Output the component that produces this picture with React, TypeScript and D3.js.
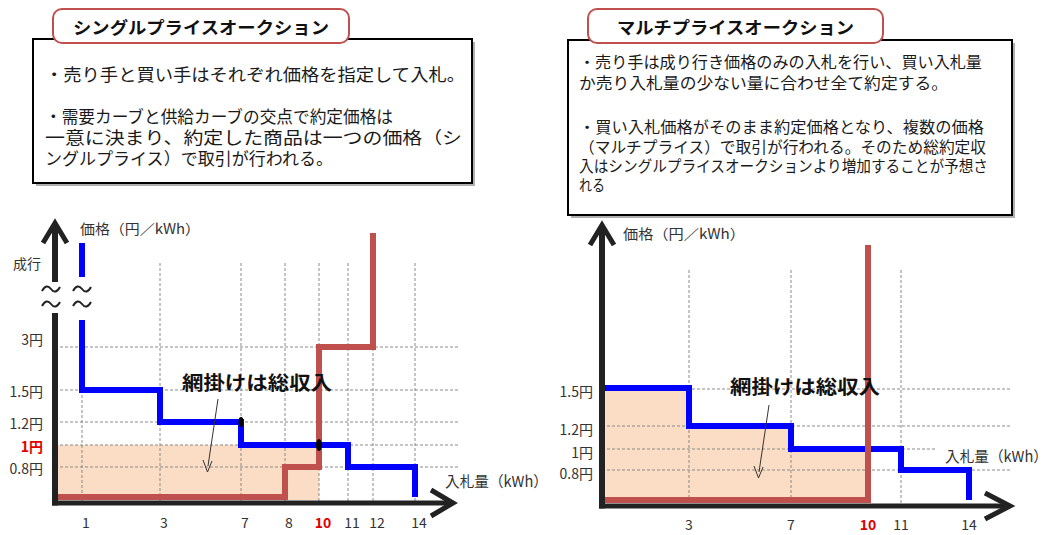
import React from "react";
import * as d3 from "d3";

const FONT = "'Noto Sans CJK JP', 'Noto Sans', sans-serif";
const BLUE = "#0000ff";
const RED = "#c0504d";
const SHADE = "#fbdcc4";
const GRID = "#8a8a8a";
const MARKET = 99; // 成行 (market order) symbolic price level

// ---------- Single price auction ----------
const singleTitle = "シングルプライスオークション";
const singleLines = [
  "・売り手と買い手はそれぞれ価格を指定して入札。",
  "・需要カーブと供給カーブの交点で約定価格は",
  "一意に決まり、約定した商品は一つの価格（シ",
  "ングルプライス）で取引が行われる。",
];
const singleTicks = [1, 3, 7, 8, 10, 11, 12, 14];
const singlePriceLevels = [3, 1.5, 1.2, 1, 0.8];
const singlePriceLabels = ["3円", "1.5円", "1.2円", "1円", "0.8円"];
const singleDemand = [
  { q: 1, p: 1.5 },
  { q: 3, p: 1.2 },
  { q: 7, p: 1.0 },
  { q: 11, p: 0.8 },
  { q: 14, p: 0 },
];
const singleSupply = [
  { q: 0, p: 0 },
  { q: 8, p: 0.8 },
  { q: 10, p: 3 },
  { q: 12, p: MARKET },
];
const singleClearing = { q: 10, p: 1 };
const singleDots = [
  { q: 7, p: 1.2 },
  { q: 10, p: 1 },
];

// ---------- Multi price auction ----------
const multiTitle = "マルチプライスオークション";
const multiLines = [
  "・売り手は成り行き価格のみの入札を行い、買い入札量",
  "か売り入札量の少ない量に合わせ全て約定する。",
  "・買い入札価格がそのまま約定価格となり、複数の価格",
  "（マルチプライス）で取引が行われる。そのため総約定収",
  "入はシングルプライスオークションより増加することが予想さ",
  "れる",
];
const multiTicks = [3, 7, 10, 11, 14];
const multiPriceLevels = [1.5, 1.2, 1, 0.8];
const multiPriceLabels = ["1.5円", "1.2円", "1円", "0.8円"];
const multiDemand = [
  { q: 0, p: 1.5 },
  { q: 3, p: 1.2 },
  { q: 7, p: 1.0 },
  { q: 11, p: 0.8 },
  { q: 14, p: 0 },
];
const multiSupply = [
  { q: 0, p: 0 },
  { q: 10, p: MARKET },
];
const multiClearQ = 10;

const highlightTick = 10;
const highlightPrice = 1;

type Pt = { q: number; p: number };

// schematic (piecewise) scales, as in the original slide
const xS = d3.scaleLinear().domain([0, 1, 3, 7, 8, 10, 11, 12, 14]).range([55, 82, 160, 241, 285, 319, 348, 373, 415]);
const yS = d3.scaleLinear().domain([0, 0.8, 1, 1.2, 1.5, 3, MARKET]).range([497, 467, 445, 422, 390, 347, 233]);
const xM = d3.scaleLinear().domain([0, 3, 7, 10, 11, 14]).range([602, 689, 791, 868, 901, 969]);
const yM = d3.scaleLinear().domain([0, 0.8, 1, 1.2, 1.5, MARKET]).range([500, 470, 449, 426, 388, 245]);

function stepLine(x: d3.ScaleLinear<number, number>, y: d3.ScaleLinear<number, number>) {
  return d3
    .line<Pt>()
    .x((d) => x(d.q))
    .y((d) => y(d.p))
    .curve(d3.curveStepAfter);
}

function Tilde({ cx, cy }: { cx: number; cy: number }) {
  const d = `M${cx - 9},${cy + 2} Q${cx - 4.5},${cy - 6} ${cx},${cy} Q${cx + 4.5},${cy + 6} ${cx + 9},${cy - 2}`;
  return <path d={d} fill="none" stroke="#222" strokeWidth={2} />;
}

function TextBox({
  x, y, w, h, tx, tw, title, titleW, lines, lineY, lineW, lineX, fs,
}: {
  x: number; y: number; w: number; h: number; tx: number; tw: number; title: string; titleW: number;
  lines: string[]; lineY: number[]; lineW: (number | null)[]; lineX: number; fs: number;
}) {
  return (
    <g>
      <rect x={x + 3} y={y + 3} width={w} height={h} fill="#b0b0b0" />
      <rect x={x} y={y} width={w} height={h} fill="#fff" stroke="#000" strokeWidth={2} />
      <rect x={tx} y={9} width={tw} height={34} rx={9} fill="#fff" stroke={RED} strokeWidth={2} />
      <text
        x={tx + tw / 2}
        y={26}
        textAnchor="middle"
        dominantBaseline="central"
        fontSize={17}
        fontWeight="bold"
        fill="#111"
        textLength={titleW}
        lengthAdjust="spacingAndGlyphs"
      >
        {title}
      </text>
      {lines.map((l, i) => (
        <text
          key={i}
          x={lineX}
          y={lineY[i]}
          dominantBaseline="central"
          fontSize={fs}
          fill="#1a1a1a"
          {...(lineW[i] ? { textLength: lineW[i] as number, lengthAdjust: "spacingAndGlyphs" } : {})}
        >
          {l}
        </text>
      ))}
    </g>
  );
}

export default function App() {
  const sLine = stepLine(xS, yS);
  const mLine = stepLine(xM, yM);

  // left chart geometry
  const sAxisX = xS(0);
  const sAxisY = 503;
  const sTop = 223;
  const breakTop = 280;
  const breakBot = 316;
  const sXTip = 453;
  const sGridTop = 263;
  const sGridRight = 460;

  // right chart geometry
  const mAxisX = xM(0);
  const mAxisY = 506;
  const mTop = 225;
  const mXTip = 1010;
  const mGridTop = 270;
  const mGridRight = 1012;

  const multiShadeData: Pt[] = [
    ...multiDemand.filter((d) => d.q < multiClearQ),
    { q: multiClearQ, p: multiDemand.filter((d) => d.q <= multiClearQ).slice(-1)[0].p },
  ];
  const mArea = d3
    .area<Pt>()
    .x((d) => xM(d.q))
    .y0(yM(0) + 3)
    .y1((d) => yM(d.p))
    .curve(d3.curveStepAfter);

  const firstDemand = singleDemand[0];

  return (
    <svg width={1051} height={535} style={{ display: "block", position: "absolute", left: 0, top: 0 }} fontFamily={FONT}>
      <rect width={1051} height={535} fill="#fff" />

      {/* ---------- text boxes ---------- */}
      <TextBox
        x={33} y={39} w={439} h={144} tx={53} tw={296} title={singleTitle} titleW={256}
        lines={singleLines} lineY={[73, 115, 136, 157]} lineW={[420, 348, 417, 288]} lineX={45} fs={17}
      />
      <TextBox
        x={568} y={40} w={444} h={175} tx={588} tw={295} title={multiTitle} titleW={237}
        lines={multiLines} lineY={[61, 82, 126, 146, 165, 184]} lineW={[403, 369, 405, 407, 409, 26]} lineX={579} fs={15.5}
      />

      {/* ================= LEFT: single price ================= */}
      <rect
        x={xS(0)}
        y={yS(singleClearing.p)}
        width={xS(singleClearing.q) - xS(0)}
        height={yS(0) + 3 - yS(singleClearing.p)}
        fill={SHADE}
      />
      {/* grid */}
      {singlePriceLevels.map((p) => (
        <line key={p} x1={sAxisX} x2={sGridRight} y1={yS(p)} y2={yS(p)} stroke={GRID} strokeWidth={1} strokeDasharray="3,2" />
      ))}
      {singleTicks.map((q) => (
        <line
          key={q}
          x1={xS(q)}
          x2={xS(q)}
          y1={q === firstDemand.q ? yS(firstDemand.p) : sGridTop}
          y2={sAxisY}
          stroke={GRID}
          strokeWidth={1}
          strokeDasharray="3,2"
        />
      ))}
      {/* supply */}
      <path d={sLine(singleSupply) || ""} fill="none" stroke={RED} strokeWidth={6} />
      {/* demand */}
      <path d={sLine(singleDemand) || ""} fill="none" stroke={BLUE} strokeWidth={6} />
      <line x1={xS(firstDemand.q)} x2={xS(firstDemand.q)} y1={yS(firstDemand.p) + 3} y2={breakBot + 4} stroke={BLUE} strokeWidth={6} />
      <line x1={xS(firstDemand.q)} x2={xS(firstDemand.q)} y1={breakTop - 3} y2={yS(MARKET) + 10} stroke={BLUE} strokeWidth={6} />
      {singleDots.map((d, i) => (
        <ellipse key={i} cx={xS(d.q)} cy={yS(d.p)} rx={i === 0 ? 2.5 : 3} ry={i === 0 ? 5 : 6} fill="#000" />
      ))}
      {/* axes */}
      <line x1={sAxisX} x2={sAxisX} y1={sAxisY + 2.5} y2={breakBot - 3} stroke="#222" strokeWidth={6} />
      <line x1={sAxisX} x2={sAxisX} y1={breakTop + 2} y2={sTop + 2} stroke="#222" strokeWidth={6} />
      <polyline points={`${sAxisX - 12},${sTop + 20} ${sAxisX},${sTop} ${sAxisX + 12},${sTop + 20}`} fill="none" stroke="#222" strokeWidth={5} />
      <line x1={sAxisX - 3} x2={sXTip - 3} y1={sAxisY} y2={sAxisY} stroke="#222" strokeWidth={5} />
      <polyline points={`${sXTip - 22},${sAxisY - 13} ${sXTip},${sAxisY} ${sXTip - 22},${sAxisY + 13}`} fill="none" stroke="#222" strokeWidth={5} />
      <Tilde cx={sAxisX - 4} cy={289} />
      <Tilde cx={sAxisX - 4} cy={304} />
      <Tilde cx={xS(firstDemand.q)} cy={289} />
      <Tilde cx={xS(firstDemand.q)} cy={304} />
      {/* labels */}
      <text x={80} y={228} dominantBaseline="central" fontSize={14} fill="#333" textLength={120} lengthAdjust="spacingAndGlyphs">
        価格（円／kWh）
      </text>
      <text x={13} y={263} dominantBaseline="central" fontSize={14} fill="#333">
        成行
      </text>
      {singlePriceLevels.map((p, i) => (
        <text
          key={p}
          x={43}
          y={yS(p) + (p === 3 ? -8 : 1)}
          textAnchor="end"
          dominantBaseline="central"
          fontSize={14}
          fontWeight={p === highlightPrice ? "bold" : "normal"}
          fill={p === highlightPrice ? "#e00000" : "#333"}
        >
          {singlePriceLabels[i]}
        </text>
      ))}
      {singleTicks.map((q) => (
        <text
          key={q}
          x={xS(q) + 4}
          y={522}
          textAnchor="middle"
          dominantBaseline="central"
          fontSize={14}
          fontWeight={q === highlightTick ? "bold" : "normal"}
          fill={q === highlightTick ? "#e00000" : "#333"}
        >
          {q}
        </text>
      ))}
      <text x={445} y={480} dominantBaseline="central" fontSize={15} fill="#333" textLength={103} lengthAdjust="spacingAndGlyphs">
        入札量（kWh）
      </text>
      <text x={182} y={381} dominantBaseline="central" fontSize={19} fontWeight="bold" fill="#111" textLength={150} lengthAdjust="spacingAndGlyphs">
        網掛けは総収入
      </text>
      <line x1={218} y1={399} x2={208} y2={466} stroke="#333" strokeWidth={1} />
      <polyline points="203,460 207.5,472 212,461" fill="none" stroke="#333" strokeWidth={1} />

      {/* ================= RIGHT: multi price ================= */}
      <path d={mArea(multiShadeData) || ""} fill={SHADE} />
      {multiPriceLevels.map((p) => (
        <line
          key={p}
          x1={mAxisX}
          x2={p === highlightPrice ? 937 : mGridRight}
          y1={yM(p) + (p === 1.5 ? 1 : 0)}
          y2={yM(p) + (p === 1.5 ? 1 : 0)}
          stroke={GRID}
          strokeWidth={1}
          strokeDasharray="3,2"
        />
      ))}
      {multiTicks
        .filter((q) => q !== multiClearQ && q !== 14)
        .map((q) => (
          <line key={q} x1={xM(q)} x2={xM(q)} y1={mGridTop} y2={mAxisY} stroke={GRID} strokeWidth={1} strokeDasharray="3,2" />
        ))}
      <path d={mLine(multiDemand) || ""} fill="none" stroke={BLUE} strokeWidth={6} />
      <path d={mLine(multiSupply) || ""} fill="none" stroke={RED} strokeWidth={6} />
      <line x1={mAxisX} x2={mAxisX} y1={mAxisY + 2.5} y2={mTop + 2} stroke="#222" strokeWidth={6} />
      <polyline points={`${mAxisX - 12},${mTop + 20} ${mAxisX},${mTop} ${mAxisX + 12},${mTop + 20}`} fill="none" stroke="#222" strokeWidth={5} />
      <line x1={mAxisX - 3} x2={mXTip - 3} y1={mAxisY} y2={mAxisY} stroke="#222" strokeWidth={5} />
      <polyline points={`${mXTip - 25},${mAxisY - 13} ${mXTip},${mAxisY} ${mXTip - 25},${mAxisY + 13}`} fill="none" stroke="#222" strokeWidth={5} />
      <text x={623} y={233} dominantBaseline="central" fontSize={14} fill="#333" textLength={122} lengthAdjust="spacingAndGlyphs">
        価格（円／kWh）
      </text>
      {multiPriceLevels.map((p, i) => (
        <text key={p} x={593} y={yM(p) + 3} textAnchor="end" dominantBaseline="central" fontSize={14} fill="#333">
          {multiPriceLabels[i]}
        </text>
      ))}
      {multiTicks.map((q) => (
        <text
          key={q}
          x={xM(q)}
          y={524}
          textAnchor="middle"
          dominantBaseline="central"
          fontSize={14}
          fontWeight={q === highlightTick ? "bold" : "normal"}
          fill={q === highlightTick ? "#e00000" : "#333"}
        >
          {q}
        </text>
      ))}
      <text x={945} y={455} dominantBaseline="central" fontSize={15} fill="#333" textLength={103} lengthAdjust="spacingAndGlyphs">
        入札量（kWh）
      </text>
      <text x={730} y={385} dominantBaseline="central" fontSize={19} fontWeight="bold" fill="#111" textLength={150} lengthAdjust="spacingAndGlyphs">
        網掛けは総収入
      </text>
      <line x1={769} y1={405} x2={759} y2={472} stroke="#333" strokeWidth={1} />
      <polyline points="754,466 758.5,478 763,467" fill="none" stroke="#333" strokeWidth={1} />
    </svg>
  );
}
